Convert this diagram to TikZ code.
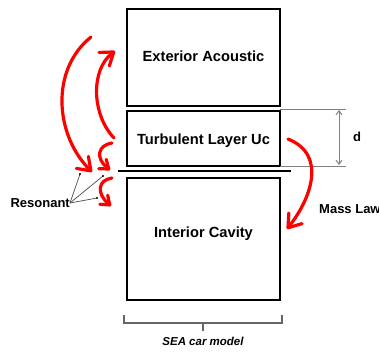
\documentclass[tikz,border=0pt]{standalone}
\usepackage{fontspec}
\setmainfont{Liberation Sans}
\usetikzlibrary{arrows.meta}
\newcommand{\boxtext}[2]{\raisebox{#1}[0pt][0pt]{#2}}
\begin{document}
\begin{tikzpicture}[x=1pt,y=-1pt,
  box/.style={draw=black, line width=2pt, inner sep=0pt, anchor=north west,
    font=\fontsize{14.7}{16}\selectfont\bfseries},
  plain/.style={inner sep=0pt, font=\fontsize{13}{15}\selectfont\bfseries},
  flow/.style={draw=red, line width=3.2pt, line cap=round,
    -{Straight Barb[round,length=12pt,width=17pt]}},
  hook/.style={draw=red, line width=3.2pt, line cap=round,
    -{Straight Barb[round,length=8pt,width=12pt]}},
  dim/.style={draw=black!50, line width=1pt},
  lead/.style={draw=black!70, line width=0.7pt}]
\useasboundingbox (0,0) rectangle (379,351);

% the three subsystems of the SEA model
\node[box, minimum width=153pt, minimum height=97pt] (ext) at (126,8)
  {\boxtext{-3.5pt}{Exterior Acoustic}};
\node[box, minimum width=153pt, minimum height=55pt] (turb) at (126,110)
  {\boxtext{-5.5pt}{Turbulent Layer Uc}};
\node[box, minimum width=153pt, minimum height=122pt] (int) at (126,177)
  {\boxtext{2pt}{Interior Cavity}};

% panel between the boundary layer and the cavity
\coordinate (plateL) at (118,171);
\coordinate (plateR) at (291,171);
\draw[line width=2.5pt] (plateL) -- (plateR);

% boundary layer thickness d
\coordinate (dTopL) at (280,109);  \coordinate (dTopR) at (346,109);
\coordinate (dBotL) at (280,166);  \coordinate (dBotR) at (346,166);
\coordinate (dA) at (339,110);     \coordinate (dB) at (339,165);
\draw[dim] (dTopL) -- (dTopR);
\draw[dim] (dBotL) -- (dBotR);
\draw[dim, {Straight Barb[length=4pt,width=6pt]}-{Straight Barb[length=4pt,width=6pt]}] (dA) -- (dB);
\node[plain] (d) at (357,136.5) {d};

% energy flow paths
\coordinate (a1) at (91,37);   \coordinate (a1e) at (92,172);
\coordinate (a2) at (114,138); \coordinate (a2e) at (115,51);
\coordinate (h1) at (112,143); \coordinate (h1e) at (110,170);
\coordinate (h2) at (112,178); \coordinate (h2e) at (111,206);
\coordinate (m1) at (288,139); \coordinate (m1e) at (287,229);
\draw[flow] (a1) .. controls (50,70) and (55,135) .. (a1e);
\draw[flow] (a2) .. controls (92,115) and (90,70) .. (a2e);
\draw[hook] (h1) .. controls (98,145) and (95,158) .. (h1e);
\draw[hook] (h2) .. controls (98,180) and (96,193) .. (h2e);
\draw[flow] (m1) .. controls (328,155) and (310,200) .. (m1e);

% labels
\node[plain, anchor=west] (mass) at (319,209) {Mass Law};
\node[plain, anchor=east] (res) at (70,203) {Resonant};
\coordinate (r1) at (80,174);
\coordinate (r2) at (103,176);
\coordinate (r3) at (97,198);
\foreach \r in {r1,r2,r3} {
  \draw[lead] (res.east) -- (\r);
  \fill (\r) circle (1.2pt);
}

% bracket grouping the model
\coordinate (bL) at (124,315); \coordinate (bR) at (282,315);
\coordinate (bM) at (203,323); \coordinate (bT) at (203,331);
\draw[draw=black!60, line width=1.2pt] (bL) |- (bR |- bM) -- (bR);
\draw[draw=black!60, line width=1.2pt] (bM) -- (bT);
\node[inner sep=0pt, font=\fontsize{11.5}{13}\selectfont\bfseries\itshape] (sea) at (203,341) {SEA car model};
\end{tikzpicture}
\end{document}
